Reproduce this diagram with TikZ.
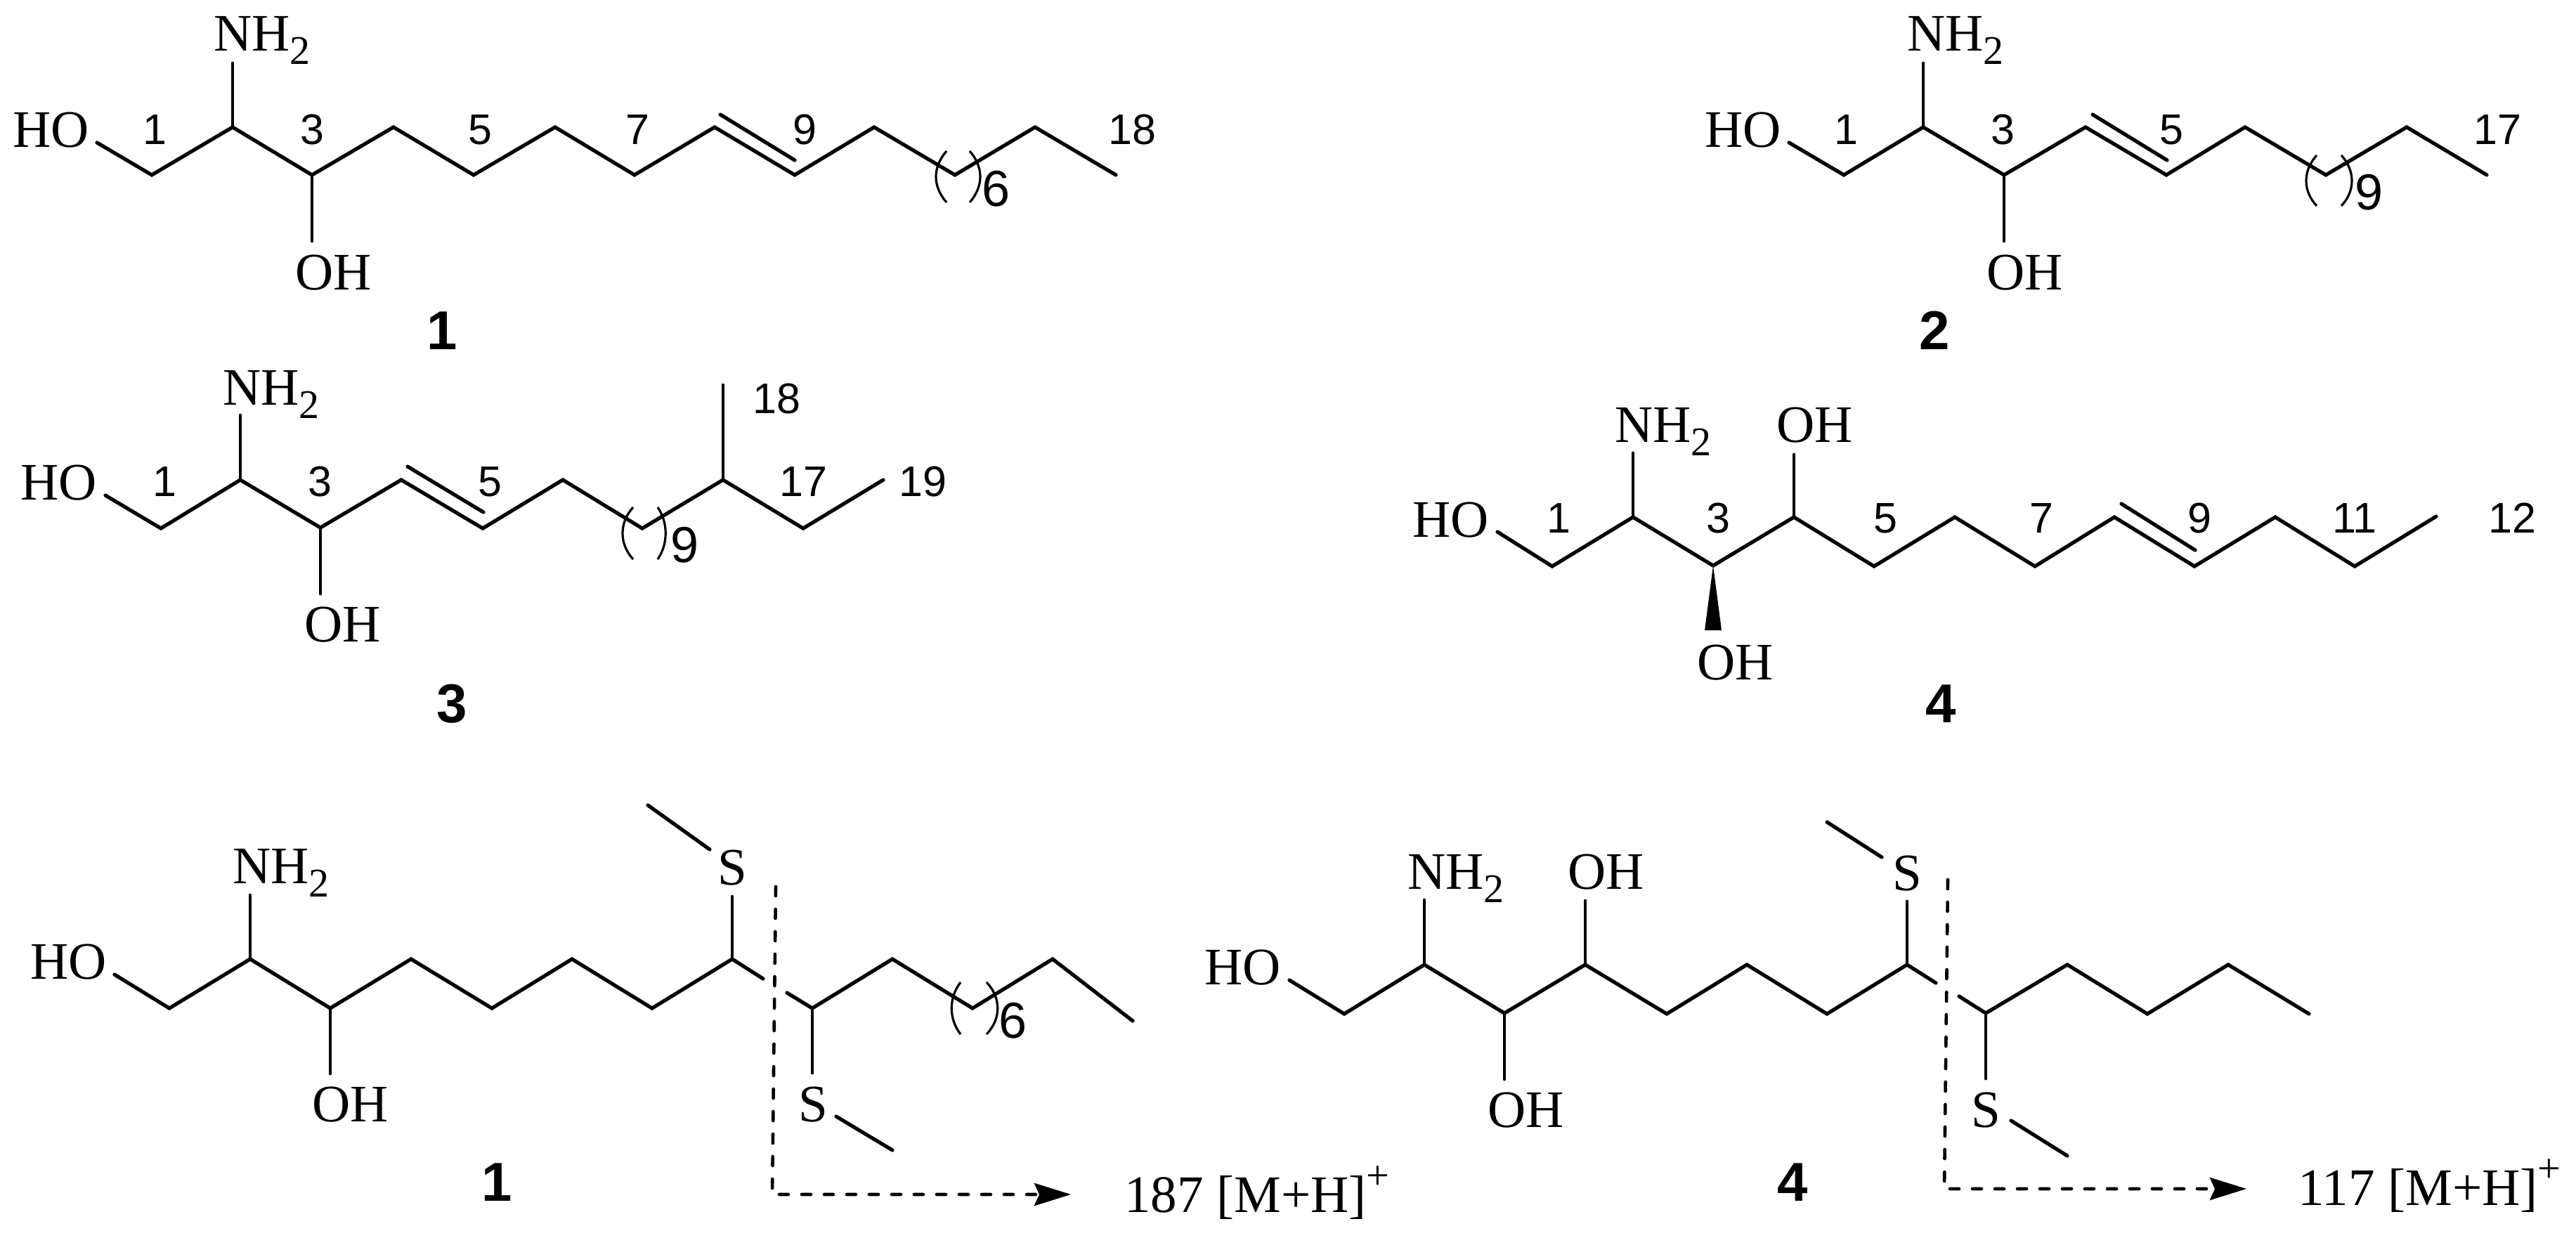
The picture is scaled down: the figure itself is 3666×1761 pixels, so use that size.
\documentclass[tikz,border=0pt]{standalone}
\usepackage{fontspec}
\usetikzlibrary{arrows.meta}
\newfontfamily\serifF{Liberation Serif}
\newfontfamily\sansF{Liberation Sans}
\newcommand\atomF{\serifF\fontsize{75}{80}\selectfont}
\newcommand\numF{\sansF\fontsize{61}{65}\selectfont}
\newcommand\repF{\sansF\fontsize{72}{76}\selectfont}
\newcommand\cpdF{\sansF\bfseries\fontsize{78}{82}\selectfont}
\newcommand\nhtwo{NH{\fontsize{58}{60}\selectfont\raisebox{-19pt}{2}}}
\newcommand\plus{{\fontsize{58}{60}\selectfont\raisebox{33pt}{+}}}
\tikzset{
  bond/.style={line width=5.2pt,line join=miter,miter limit=10,line cap=round},
  sbond/.style={line width=4.8pt,line cap=round},
  paren/.style={line width=3.2pt},
  cut/.style={line width=4.6pt,line cap=round,dash pattern=on 13pt off 19pt,-{Stealth[length=52pt,width=32pt,inset=7pt]}},
  atom/.style={inner sep=0pt,anchor=base west,font=\atomF},
  num/.style={inner sep=0pt,anchor=base,font=\numF},
  rep/.style={inner sep=0pt,anchor=base,font=\repF},
  cpd/.style={inner sep=0pt,anchor=base,font=\cpdF}
}
\begin{document}
\begin{tikzpicture}[x=1pt,y=-1pt]
\useasboundingbox[fill=white] (0,0) rectangle (3666,1761);

% ---------- compound 1
\foreach \n/\x/\y in {0/138/203,1/216/249,2/331/181,3/444/249,4/560/181,5/674/249,6/790/181,7/903/249,8/1017/181,9/1131/249,10/1244/181,11/1359/249,12/1473/181,13/1588/249}
  {\coordinate (a\n) at (\x,\y);}
\coordinate (aN) at (331,90); \coordinate (aO) at (444,343);
\coordinate (ad1) at (1025,163); \coordinate (ad2) at (1131,228);
\draw[bond] (a0)--(a1)--(a2)--(a3)--(a4)--(a5)--(a6)--(a7)--(a8)--(a9)--(a10)--(a11)--(a12)--(a13);
\draw[bond] (ad1)--(ad2);
\draw[sbond] (a2)--(aN); \draw[sbond] (a3)--(aO);
\draw[paren] (1347,215) .. controls (1327,238) and (1327,265) .. (1347,288);
\draw[paren] (1380,215) .. controls (1400,238) and (1400,265) .. (1380,288);
\node[atom] (aHO) at (18,209) {HO};
\node[atom] (aNH) at (304,73) {\nhtwo};
\node[atom] (aOH) at (420,412) {OH};
\node[num] (a1l) at (220,205) {1};
\node[num] (a3l) at (444,205) {3};
\node[num] (a5l) at (683,205) {5};
\node[num] (a7l) at (907,205) {7};
\node[num] (a9l) at (1145,205) {9};
\node[num] (a18l) at (1611,205) {18};
\node[rep] (a6l) at (1418,293) {6};
\node[cpd] (aC) at (629,497) {1};

% ---------- compound 2
\foreach \n/\x/\y in {0/2546/203,1/2624/249,2/2737/181,3/2852/249,4/2968/181,5/3083/249,6/3195/181,7/3310/249,8/3425/181,9/3539/249}
  {\coordinate (b\n) at (\x,\y);}
\coordinate (bN) at (2737,90); \coordinate (bO) at (2852,343);
\coordinate (bd1) at (2978,163); \coordinate (bd2) at (3084,228);
\draw[bond] (b0)--(b1)--(b2)--(b3)--(b4)--(b5)--(b6)--(b7)--(b8)--(b9);
\draw[bond] (bd1)--(bd2);
\draw[sbond] (b2)--(bN); \draw[sbond] (b3)--(bO);
\draw[paren] (3297,221) .. controls (3277,243) and (3277,272) .. (3297,293);
\draw[paren] (3332,221) .. controls (3352,243) and (3352,272) .. (3332,293);
\node[atom] (bHO) at (2426,209) {HO};
\node[atom] (bNH) at (2714,73) {\nhtwo};
\node[atom] (bOH) at (2827,412) {OH};
\node[num] (b1l) at (2627,205) {1};
\node[num] (b3l) at (2850,205) {3};
\node[num] (b5l) at (3090,205) {5};
\node[num] (b17l) at (3554,205) {17};
\node[rep] (b9l) at (3371,298) {9};
\node[cpd] (bC) at (2753,497) {2};

% ---------- compound 3
\foreach \n/\x/\y in {0/150/705,1/229/752,2/342/683,3/456/751,4/571/683,5/687/752,6/801/683,7/914/752,8/1029/683,9/1143/752,10/1257/683}
  {\coordinate (c\n) at (\x,\y);}
\coordinate (cN) at (342,591); \coordinate (cO) at (456,845); \coordinate (cM) at (1029,548);
\coordinate (cd1) at (580,664); \coordinate (cd2) at (688,729);
\draw[bond] (c0)--(c1)--(c2)--(c3)--(c4)--(c5)--(c6)--(c7)--(c8)--(c9)--(c10);
\draw[bond] (cd1)--(cd2);
\draw[sbond] (c2)--(cN); \draw[sbond] (c3)--(cO); \draw[sbond] (c8)--(cM);
\draw[paren] (901,722) .. controls (881,744) and (881,774) .. (901,796);
\draw[paren] (936,722) .. controls (951,744) and (951,774) .. (936,796);
\node[atom] (cHO) at (29,711) {HO};
\node[atom] (cNH) at (317,576) {\nhtwo};
\node[atom] (cOH) at (433,913) {OH};
\node[num] (c1l) at (234,706) {1};
\node[num] (c3l) at (455,706) {3};
\node[num] (c5l) at (697,706) {5};
\node[num] (c17l) at (1143,706) {17};
\node[num] (c19l) at (1313,706) {19};
\node[num] (c18l) at (1105,588) {18};
\node[rep] (c9l) at (975,800) {9};
\node[cpd] (cC) at (643,1028) {3};

% ---------- compound 4
\foreach \n/\x/\y in {0/2131/757,1/2209/806,2/2324/736,3/2438/805,4/2553/736,5/2667/806,6/2782/736,7/2896/806,8/3009/736,9/3123/806,10/3238/736,11/3351/806,12/3467/735}
  {\coordinate (d\n) at (\x,\y);}
\coordinate (dN) at (2324,645); \coordinate (dO) at (2553,647);
\coordinate (dd1) at (3019,717); \coordinate (dd2) at (3124,783);
\coordinate (dW1) at (2426,897); \coordinate (dW2) at (2450,897);
\draw[bond] (d0)--(d1)--(d2)--(d3)--(d4)--(d5)--(d6)--(d7)--(d8)--(d9)--(d10)--(d11)--(d12);
\draw[bond] (dd1)--(dd2);
\draw[sbond] (d2)--(dN); \draw[sbond] (d4)--(dO);
\fill (d3)--(dW1)--(dW2)--cycle;
\node[atom] (dHO) at (2010,764) {HO};
\node[atom] (dNH) at (2298,629) {\nhtwo};
\node[atom] (dOHt) at (2528,629) {OH};
\node[atom] (dOHb) at (2415,967) {OH};
\node[num] (d1l) at (2218,758) {1};
\node[num] (d3l) at (2445,758) {3};
\node[num] (d5l) at (2683,758) {5};
\node[num] (d7l) at (2905,758) {7};
\node[num] (d9l) at (3130,758) {9};
\node[num] (d11l) at (3351,758) {11};
\node[num] (d12l) at (3575,758) {12};
\node[cpd] (dC) at (2762,1028) {4};

% ---------- derivative of 1
\foreach \n/\x/\y in {0/163/1387,1/241/1435,2/356/1365,3/470/1435,4/585/1365,5/700/1435,6/814/1365,7/928/1435,8/1042/1365,9/1086/1393}
  {\coordinate (e\n) at (\x,\y);}
\foreach \n/\x/\y in {0/1120/1413,1/1156/1435,2/1270/1365,3/1384/1435,4/1498/1365,5/1612/1453}
  {\coordinate (f\n) at (\x,\y);}
\coordinate (eN) at (356,1274); \coordinate (eO) at (470,1528);
\coordinate (eS) at (1042,1276); \coordinate (eSb) at (1156,1527);
\coordinate (eM1) at (922,1146); \coordinate (eM2) at (1010,1209);
\coordinate (eM3) at (1190,1589); \coordinate (eM4) at (1270,1637);
\coordinate (eCa) at (1104,1262); \coordinate (eCb) at (1099,1700); \coordinate (eCc) at (1524,1700);
\draw[bond] (e0)--(e1)--(e2)--(e3)--(e4)--(e5)--(e6)--(e7)--(e8)--(e9);
\draw[bond] (f0)--(f1)--(f2)--(f3)--(f4)--(f5);
\draw[sbond] (e2)--(eN); \draw[sbond] (e3)--(eO); \draw[sbond] (e8)--(eS); \draw[sbond] (f1)--(eSb);
\draw[bond] (eM1)--(eM2); \draw[bond] (eM3)--(eM4);
\draw[paren] (1367,1398) .. controls (1350,1420) and (1350,1450) .. (1367,1472);
\draw[paren] (1404,1398) .. controls (1425,1420) and (1425,1450) .. (1404,1472);
\draw[cut] (eCa)--(eCb)--(eCc);
\node[atom] (eHO) at (43,1393) {HO};
\node[atom] (eNH) at (331,1257) {\nhtwo};
\node[atom] (eOH) at (444,1596) {OH};
\node[atom,anchor=base] (eS1) at (1042,1259) {S};
\node[atom,anchor=base] (eS2) at (1157,1596) {S};
\node[rep] (e6l) at (1442,1477) {6};
\node[cpd] (eC) at (707,1709) {1};
\node[atom] (eMS) at (1600,1725) {187 [M+H]\plus};

% ---------- derivative of 4
\foreach \n/\x/\y in {0/1835/1395,1/1913/1443,2/2027/1373,3/2141/1442,4/2256/1373,5/2372/1443,6/2486/1373,7/2600/1443,8/2714/1373,9/2755/1399}
  {\coordinate (g\n) at (\x,\y);}
\foreach \n/\x/\y in {0/2788/1418,1/2826/1442,2/2942/1373,3/3056/1443,4/3171/1373,5/3286/1443}
  {\coordinate (h\n) at (\x,\y);}
\coordinate (gN) at (2027,1281); \coordinate (gO) at (2256,1282); \coordinate (gOb) at (2141,1536);
\coordinate (gS) at (2714,1283); \coordinate (gSb) at (2826,1535);
\coordinate (gM1) at (2600,1170); \coordinate (gM2) at (2678,1220);
\coordinate (gM3) at (2862,1595); \coordinate (gM4) at (2942,1645);
\coordinate (gCa) at (2772,1252); \coordinate (gCb) at (2767,1692); \coordinate (gCc) at (3197,1692);
\draw[bond] (g0)--(g1)--(g2)--(g3)--(g4)--(g5)--(g6)--(g7)--(g8)--(g9);
\draw[bond] (h0)--(h1)--(h2)--(h3)--(h4)--(h5);
\draw[sbond] (g2)--(gN); \draw[sbond] (g4)--(gO); \draw[sbond] (g3)--(gOb); \draw[sbond] (g8)--(gS); \draw[sbond] (h1)--(gSb);
\draw[bond] (gM1)--(gM2); \draw[bond] (gM3)--(gM4);
\draw[cut] (gCa)--(gCb)--(gCc);
\node[atom] (gHO) at (1714,1401) {HO};
\node[atom] (gNH) at (2003,1265) {\nhtwo};
\node[atom] (gOHt) at (2231,1265) {OH};
\node[atom] (gOHb) at (2117,1604) {OH};
\node[atom,anchor=base] (gS1) at (2714,1267) {S};
\node[atom,anchor=base] (gS2) at (2826,1604) {S};
\node[cpd] (gC) at (2551,1709) {4};
\node[atom] (gMS) at (3270,1715) {117 [M+H]\plus};
\end{tikzpicture}
\end{document}
